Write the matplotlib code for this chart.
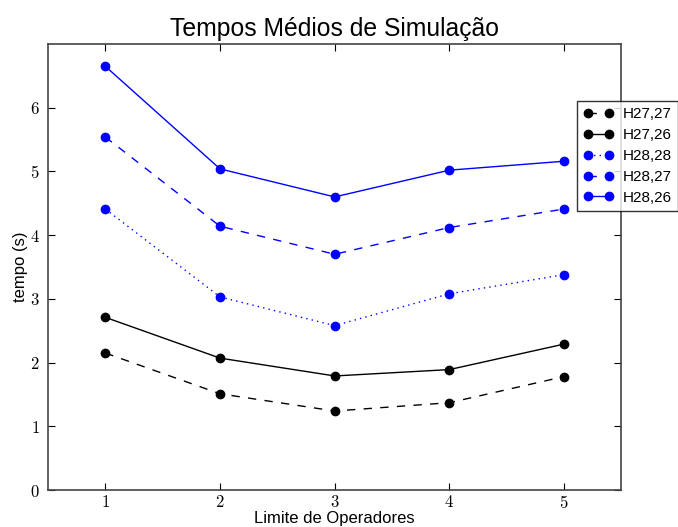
import matplotlib
matplotlib.use("Agg")
import matplotlib.pyplot as plt

x = [1, 2, 3, 4, 5]
labels = ["H27,27", "H27,26", "H28,28", "H28,27", "H28,26"]
h27_27 = [2.15, 1.51, 1.24, 1.37, 1.78]
h27_26 = [2.71, 2.07, 1.79, 1.89, 2.29]
h28_28 = [4.41, 3.03, 2.58, 3.08, 3.38]
h28_27 = [5.54, 4.14, 3.70, 4.12, 4.41]
h28_26 = [6.65, 5.04, 4.60, 5.02, 5.16]
yticks = [0, 1, 2, 3, 4, 5, 6]

plt.rcParams['mathtext.fontset'] = 'cm'
plt.rcParams['font.family'] = ['Liberation Sans', 'DejaVu Sans']

fig = plt.figure(figsize=(6.78, 5.27), dpi=100)
ax = fig.add_axes([0.0708, 0.0702, 0.8457, 0.8463])

series = [h27_27, h27_26, h28_28, h28_27, h28_26]
colors = ['black', 'black', 'blue', 'blue', 'blue']
styles = [(0, (6, 6)), '-', (0, (1, 3)), (0, (6, 6)), '-']
for s, c, ls, lab in zip(series, colors, styles, labels):
    ax.plot(x, s, color=c, linestyle=ls, marker='o', markersize=6, lw=1, label=lab)

ax.set_xlim(0.5, 5.5)
ax.set_ylim(0, 7)
ax.set_xticks(x)
ax.set_xticklabels([f"${v}$" for v in x], fontsize=12)
ax.set_yticks(yticks)
ax.set_yticklabels([f"${v}$" for v in yticks], fontsize=12)
ax.tick_params(direction='in', top=True, right=True, length=5, width=0.8)
ax.tick_params(axis='x', pad=3)
ax.tick_params(axis='y', pad=6)
for sp in ax.spines.values():
    sp.set_color('#444444')
    sp.set_linewidth(1.2)

ax.set_title("Tempos Médios de Simulação", fontsize=17.8, pad=6)
ax.set_xlabel("Limite de Operadores", fontsize=12, labelpad=0)
ax.set_ylabel("tempo (s)", fontsize=12, labelpad=1)

leg = fig.legend(loc='upper left', bbox_to_anchor=(0.851, 0.808), fontsize=11,
                 frameon=True, fancybox=False, handlelength=2.0, borderpad=0.4,
                 labelspacing=0.45, handletextpad=0.6, borderaxespad=0.0,
                 numpoints=2)
leg.get_frame().set_edgecolor('black')
leg.get_frame().set_linewidth(1.0)

fig.savefig("out.png", dpi=100)
